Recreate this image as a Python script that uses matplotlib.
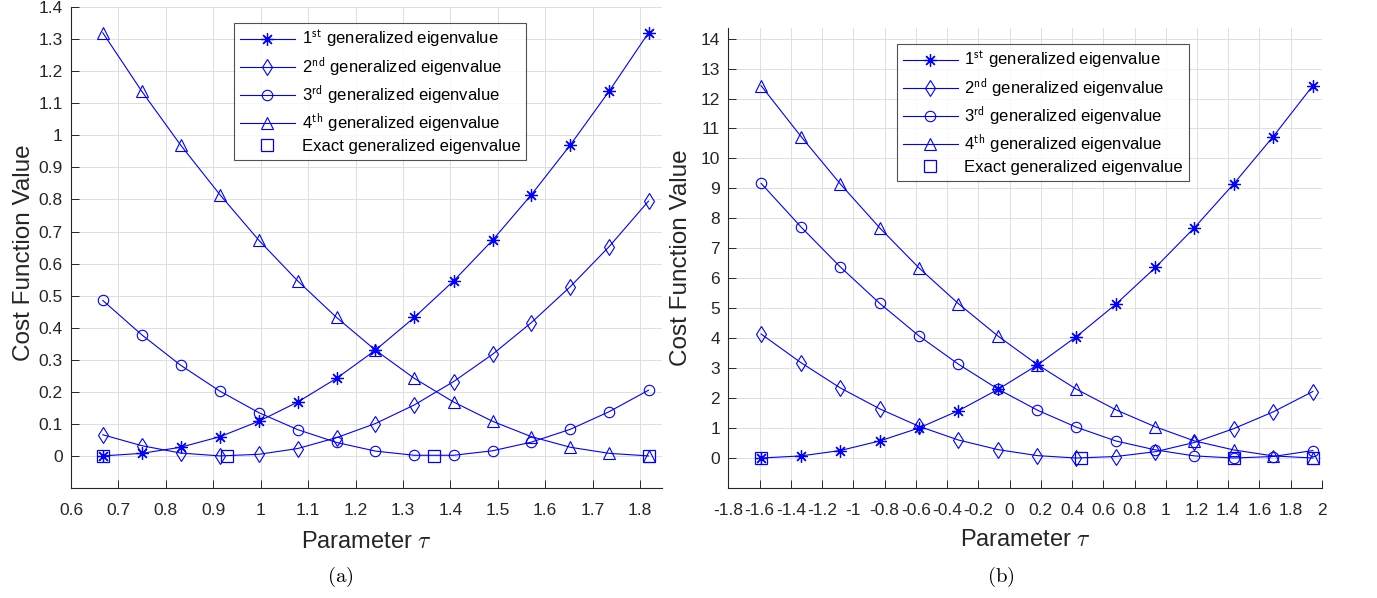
import matplotlib
matplotlib.use("Agg")
import matplotlib.pyplot as plt

plt.rcParams['font.family'] = ['Liberation Sans', 'DejaVu Sans']
plt.rcParams['mathtext.fontset'] = 'cm'
plt.rcParams['axes.unicode_minus'] = False

# ---------------- data (a) ----------------
tau_a = [0.667, 0.749, 0.831, 0.914, 0.996, 1.078, 1.160, 1.242, 1.324,
         1.407, 1.489, 1.571, 1.653, 1.735, 1.818]
ev1_a = [0.0, 0.008, 0.027, 0.060, 0.108, 0.168, 0.242, 0.330, 0.432,
         0.546, 0.673, 0.815, 0.970, 1.138, 1.320]
ev2_a = [0.066, 0.032, 0.009, 0.0, 0.005, 0.023, 0.057, 0.101, 0.159,
         0.232, 0.317, 0.416, 0.528, 0.653, 0.795]
ev3_a = [0.485, 0.378, 0.283, 0.202, 0.135, 0.082, 0.042, 0.015, 0.002,
         0.002, 0.016, 0.043, 0.083, 0.138, 0.205]
ev4_a = [1.320, 1.138, 0.970, 0.815, 0.673, 0.546, 0.432, 0.330, 0.242,
         0.168, 0.108, 0.060, 0.027, 0.008, 0.0]
exact_tau_a = [0.667, 0.928, 1.366, 1.818]
exact_val_a = [0.0, 0.0, 0.0, 0.0]

# ---------------- data (b) ----------------
tau_b = [-1.591, -1.335, -1.084, -0.831, -0.581, -0.327, -0.074, 0.177,
         0.427, 0.680, 0.934, 1.184, 1.435, 1.688, 1.942]
ev1_b = [0.0, 0.07, 0.25, 0.57, 1.0, 1.58, 2.29, 3.10, 4.05, 5.13, 6.36,
         7.69, 9.15, 10.73, 12.43]
ev2_b = [4.14, 3.18, 2.34, 1.64, 1.06, 0.60, 0.28, 0.08, 0.0, 0.05, 0.21,
         0.52, 0.98, 1.54, 2.22]
ev3_b = [9.17, 7.71, 6.38, 5.16, 4.08, 3.13, 2.30, 1.60, 1.03, 0.57, 0.27,
         0.07, 0.0, 0.05, 0.25]
ev4_b = [12.43, 10.73, 9.15, 7.68, 6.35, 5.15, 4.07, 3.12, 2.30, 1.61,
         1.04, 0.57, 0.27, 0.07, 0.0]
exact_tau_b = [-1.591, 0.455, 1.435, 1.942]
exact_val_b = [0.0, 0.0, 0.0, 0.0]

labels = ['1$^{\\mathsf{st}}$ generalized eigenvalue',
          '2$^{\\mathsf{nd}}$ generalized eigenvalue',
          '3$^{\\mathsf{rd}}$ generalized eigenvalue',
          '4$^{\\mathsf{th}}$ generalized eigenvalue',
          'Exact generalized eigenvalue']

xticks_a = [0.6, 0.7, 0.8, 0.9, 1.0, 1.1, 1.2, 1.3, 1.4, 1.5, 1.6, 1.7, 1.8]
xticklabels_a = ['0.6', '0.7', '0.8', '0.9', '1', '1.1', '1.2', '1.3', '1.4',
                 '1.5', '1.6', '1.7', '1.8']
yticks_a = [0, 0.1, 0.2, 0.3, 0.4, 0.5, 0.6, 0.7, 0.8, 0.9, 1.0, 1.1, 1.2, 1.3, 1.4]
yticklabels_a = ['0', '0.1', '0.2', '0.3', '0.4', '0.5', '0.6', '0.7', '0.8',
                 '0.9', '1', '1.1', '1.2', '1.3', '1.4']
xticks_b = [-1.8, -1.6, -1.4, -1.2, -1.0, -0.8, -0.6, -0.4, -0.2, 0, 0.2, 0.4,
            0.6, 0.8, 1.0, 1.2, 1.4, 1.6, 1.8, 2.0]
xticklabels_b = ['-1.8', '-1.6', '-1.4', '-1.2', '-1', '-0.8', '-0.6', '-0.4',
                 '-0.2', '0', '0.2', '0.4', '0.6', '0.8', '1', '1.2', '1.4',
                 '1.6', '1.8', '2']
yticks_b = list(range(0, 15))
yticklabels_b = [str(v) for v in yticks_b]

BLUE = (0, 0, 1)
DARK = (0.15, 0.15, 0.15)
ASTERISK = (8, 2, 0)

fig = plt.figure(figsize=(13.77, 5.98), dpi=100)
ax_a = fig.add_axes([0.0516, 0.184, 0.429, 0.804])
ax_b = fig.add_axes([0.529, 0.184, 0.431, 0.769])


def draw(ax, tau, e1, e2, e3, e4, etau, eval_, xt, xtl, yt, ytl, xlim, ylim,
         leg_bbox, ycoord):
    lw = 0.8
    ax.plot(tau, e1, '-', color=BLUE, lw=lw, marker=ASTERISK, ms=9, mew=0.9,
            mfc='none', mec=BLUE, label=labels[0])
    ax.plot(tau, e2, '-', color=BLUE, lw=lw, marker='d', ms=8, mew=0.8,
            mfc='none', mec=BLUE, label=labels[1])
    ax.plot(tau, e3, '-', color=BLUE, lw=lw, marker='o', ms=7.5, mew=0.8,
            mfc='none', mec=BLUE, label=labels[2])
    ax.plot(tau, e4, '-', color=BLUE, lw=lw, marker='^', ms=8, mew=0.8,
            mfc='none', mec=BLUE, label=labels[3])
    ax.plot(etau, eval_, linestyle='none', marker='s', ms=9, mew=0.9,
            mfc='none', mec=BLUE, label=labels[4])
    ax.set_xlim(*xlim)
    ax.set_ylim(*ylim)
    ax.set_xticks(xt)
    ax.set_xticklabels(xtl)
    ax.set_yticks(yt)
    ax.set_yticklabels(ytl)
    ax.grid(True, color=(0.87, 0.87, 0.87), lw=0.7)
    ax.set_axisbelow(True)
    for s in ['top', 'right']:
        ax.spines[s].set_visible(False)
    for s in ['left', 'bottom']:
        ax.spines[s].set_color(DARK)
        ax.spines[s].set_linewidth(0.8)
    ax.tick_params(direction='in', length=6, width=0.7, colors=DARK,
                   labelsize=12.5)
    ax.tick_params(axis='x', pad=11)
    ax.tick_params(axis='y', pad=6)
    ax.set_xlabel('Parameter $\\tau$', fontsize=17, color=DARK)
    ax.set_ylabel('Cost Function Value', fontsize=17.5, color=DARK)
    ax.xaxis.set_label_coords(0.5, -0.089)
    ax.yaxis.set_label_coords(ycoord[0], ycoord[1])
    leg = ax.legend(loc='upper left', bbox_to_anchor=leg_bbox,
                    bbox_transform=fig.transFigure, fontsize=12,
                    frameon=True, fancybox=False, edgecolor=DARK,
                    borderaxespad=0, borderpad=0.35, labelspacing=0.3,
                    handlelength=3.3, handletextpad=0.4)
    leg.get_frame().set_linewidth(0.8)
    return ax


draw(ax_a, tau_a, ev1_a, ev2_a, ev3_a, ev4_a, exact_tau_a, exact_val_a,
     xticks_a, xticklabels_a, yticks_a, yticklabels_a, (0.6, 1.846),
     (-0.1, 1.4), (234 / 1377, 1 - 23 / 598), (-0.061, 0.49))
draw(ax_b, tau_b, ev1_b, ev2_b, ev3_b, ev4_b, exact_tau_b, exact_val_b,
     xticks_b, xticklabels_b, yticks_b, yticklabels_b, (-1.8, 2.0),
     (-1.0, 14.35), (897 / 1377, 1 - 44 / 598), (-0.062, 0.5))

fig.text(340 / 1377, 1 - 577 / 598, '$\\mathrm{(a)}$', fontsize=15,
         ha='center', va='center', color='black')
fig.text(1001 / 1377, 1 - 577 / 598, '$\\mathrm{(b)}$', fontsize=15,
         ha='center', va='center', color='black')

fig.savefig('out.png', dpi=100)
